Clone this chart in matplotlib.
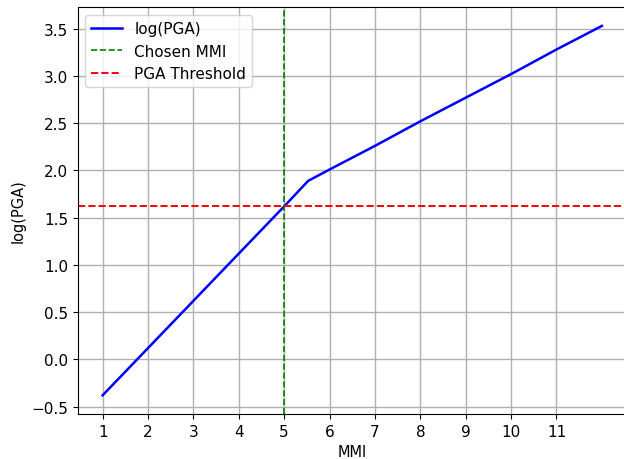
import matplotlib
matplotlib.use("Agg")
import matplotlib.pyplot as plt

mmi = [1, 2, 3, 4, 5, 5.53, 6, 7, 8, 9, 10, 11, 12]
log_pga = [-0.38, 0.12, 0.62, 1.12, 1.62, 1.89, 2.01, 2.26, 2.52, 2.77, 3.02, 3.28, 3.53]
chosen_mmi = 5
pga_threshold = 1.62
xtick_values = [1, 2, 3, 4, 5, 6, 7, 8, 9, 10, 11]

fig = plt.figure(figsize=(6.24, 4.6), dpi=100)
ax = fig.add_axes([0.1245, 0.098, 0.88, 0.884])
ax.plot(mmi, log_pga, color="blue", linewidth=1.8, label="log(PGA)")
ax.axvline(chosen_mmi, color="green", linestyle="--", linewidth=1.2, label="Chosen MMI")
ax.axhline(pga_threshold, color="red", linestyle="--", linewidth=1.4, label="PGA Threshold")
ax.set_xlim(0.45, 12.55)
ax.set_ylim(-0.577, 3.727)
ax.set_xticks(xtick_values)
ax.set_xlabel("MMI", fontsize=10.5)
ax.set_ylabel("log(PGA)", fontsize=10.5)
ax.tick_params(labelsize=11)
ax.grid(True, color="#b0b0b0", linewidth=1.0)
ax.legend(loc="upper left", fontsize=11)
fig.savefig("out.png", dpi=100)
